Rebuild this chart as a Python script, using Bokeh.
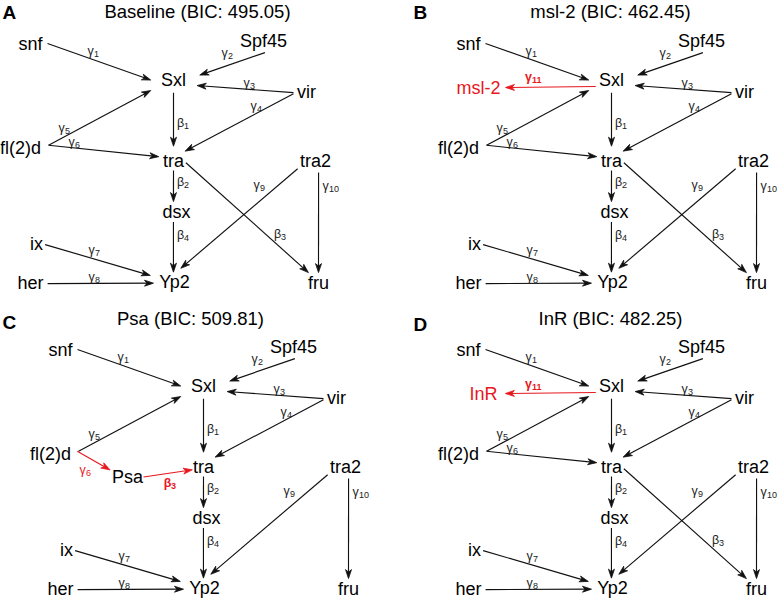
import math
from bokeh.plotting import figure
from bokeh.models import Range1d, ColumnDataSource
from bokeh.core.properties import value
from bokeh.embed import file_html
from bokeh.resources import INLINE

# ---------------- data ----------------
node_names = ["snf", "Spf45", "Sxl", "vir", "fl(2)d", "tra", "tra2", "dsx", "ix", "her", "Yp2", "fru"]
edge_from = ["snf", "Spf45", "vir", "vir", "fl(2)d", "fl(2)d", "Sxl", "tra", "dsx", "tra", "tra2", "tra2", "ix", "her"]
edge_to = ["Sxl", "Sxl", "Sxl", "tra", "Sxl", "tra", "tra", "dsx", "Yp2", "fru", "Yp2", "fru", "Yp2", "Yp2"]
edge_param = ["γ1", "γ2", "γ3", "γ4", "γ5", "γ6", "β1", "β2", "β4", "β3", "γ9", "γ10", "γ7", "γ8"]

panel_letters = ["A", "B", "C", "D"]
panel_models = ["Baseline", "msl-2", "Psa", "InR"]
panel_bic = [495.05, 462.45, 509.81, 482.25]

# model-specific changes relative to the baseline network
added_nodes = [[], ["msl-2"], ["Psa"], ["InR"]]
added_from = [[], ["Sxl"], ["fl(2)d", "Psa"], ["Sxl"]]
added_to = [[], ["msl-2"], ["Psa", "tra"], ["InR"]]
added_param = [[], ["γ11"], ["γ6", "β3"], ["γ11"]]
removed_from = [[], [], ["fl(2)d", "tra"], []]
removed_to = [[], [], ["tra", "fru"], []]

# ---------------- layout (diagram coordinates of panel A) ----------------
NODE_POS = {
    "snf": (30, 43), "Spf45": (263, 40), "Sxl": (173, 79), "vir": (306, 91),
    "fl(2)d": (20, 147), "tra": (173, 160), "tra2": (315, 160), "dsx": (176, 211),
    "ix": (36, 243), "her": (30, 282), "Yp2": (174, 281), "fru": (318, 282),
    "msl-2": (40, 87), "InR": (45, 87), "Psa": (97, 170),
}
PANEL_OFFSET = [(0, 0), (438, 0), (30, 306), (438, 306)]
TITLE_POS = [(197, 11), (610, 11), (190, 318), (610, 318)]
LETTER_POS = [(2, 12), (413, 12), (2, 322), (413, 324)]

# edge ports: (ux, uy) in units of (half text width + 5, 11) around node centre
PORTS = {
    ("snf", "Sxl"): ((1.0, 0.0), (-1.3, 0.05)),
    ("Spf45", "Sxl"): ((0.05, 1.1), (1.5, -0.4)),
    ("vir", "Sxl"): ((-0.9, 0.1), (1.35, 0.55)),
    ("vir", "tra"): ((-0.9, 0.2), (0.75, -0.85)),
    ("fl(2)d", "Sxl"): ((1.1, -0.2), (-1.3, 1.0)),
    ("fl(2)d", "tra"): ((1.1, -0.2), (-0.95, -0.35)),
    ("Sxl", "tra"): ((0.0, 1.2), (0.0, -1.3)),
    ("tra", "dsx"): ((0.0, 0.9), (-0.16, -0.9)),
    ("dsx", "Yp2"): ((-0.16, 0.95), (-0.05, -0.85)),
    ("tra", "fru"): ((0.8, 0.2), (-0.65, -0.9)),
    ("tra2", "Yp2"): ((-0.87, 0.75), (0.3, -1.2)),
    ("tra2", "fru"): ((0.15, 1.1), (0.0, -0.9)),
    ("ix", "Yp2"): ((0.75, 0.1), (-1.15, -0.55)),
    ("her", "Yp2"): ((0.95, 0.1), (-1.0, 0.15)),
    ("Sxl", "msl-2"): ((-0.9, 0.64), (1.0, 0.0)),
    ("Sxl", "InR"): ((-0.9, 0.64), (1.15, 0.0)),
    ("fl(2)d", "Psa"): ((1.05, -0.2), (-0.85, -0.6)),
    ("Psa", "tra"): ((0.78, 0.05), (-0.72, 0.3)),
}
# position of the Greek letter of each edge label
LABEL_POS = {
    ("snf", "Sxl"): (90, 50), ("Spf45", "Sxl"): (224, 52), ("vir", "Sxl"): (246, 82),
    ("vir", "tra"): (253, 105), ("fl(2)d", "Sxl"): (61, 127), ("fl(2)d", "tra"): (71, 141),
    ("Sxl", "tra"): (180, 122), ("tra", "dsx"): (180, 181), ("dsx", "Yp2"): (180, 234),
    ("tra", "fru"): (277, 233), ("tra2", "Yp2"): (256, 184), ("tra2", "fru"): (325, 185),
    ("ix", "Yp2"): (91, 249), ("her", "Yp2"): (91, 276),
    ("Sxl", "msl-2"): (90, 76), ("Sxl", "InR"): (90, 77),
    ("fl(2)d", "Psa"): (52, 163), ("Psa", "tra"): (137, 176),
}
BOLD_LABELS = {("Sxl", "msl-2"), ("Sxl", "InR"), ("Psa", "tra")}

FONT = "Liberation Sans"
BLACK = "#111111"
RED = "#e8161d"
LABEL_GREY = "#222222"
NODE_FS = 18
HH = 11

ARIAL = {"a": 556, "b": 556, "c": 500, "d": 556, "e": 556, "f": 278, "h": 556, "i": 222,
         "l": 222, "m": 833, "n": 556, "p": 556, "r": 333, "s": 500, "t": 278, "u": 556,
         "v": 500, "x": 500, "S": 667, "Y": 667, "I": 278, "R": 722, "P": 667,
         "(": 333, ")": 333, "-": 333}


def half_width(label):
    return sum(ARIAL.get(c, 556) for c in label) / 1000.0 * NODE_FS / 2.0


def port(name, u, ox, oy):
    cx, cy = NODE_POS[name]
    return (cx + ox + u[0] * (half_width(name) + 5), cy + oy + u[1] * HH)


p = figure(width=778, height=599, x_range=Range1d(0, 778), y_range=Range1d(599, 0),
           output_backend="svg", toolbar_location=None, min_border=0,
           x_axis_type=None, y_axis_type=None)
p.grid.visible = False
p.outline_line_color = None
p.background_fill_color = "white"

seg = dict(x0=[], y0=[], x1=[], y1=[], c=[])
heads = dict(xs=[], ys=[], c=[])
ntext = dict(x=[], y=[], t=[], c=[])
gtext = {False: dict(x=[], y=[], t=[], c=[]), True: dict(x=[], y=[], t=[], c=[])}
stext = {False: dict(x=[], y=[], t=[], c=[]), True: dict(x=[], y=[], t=[], c=[])}
titles = dict(x=[], y=[], t=[])
letters = dict(x=[], y=[], t=[])

L, W, NOTCH = 9.0, 3.0, 2.5

for k in range(4):
    ox, oy = PANEL_OFFSET[k]
    removed = set(zip(removed_from[k], removed_to[k]))
    edges = [(f, t, prm, False) for f, t, prm in zip(edge_from, edge_to, edge_param)
             if (f, t) not in removed]
    edges += [(f, t, prm, True) for f, t, prm in zip(added_from[k], added_to[k], added_param[k])]

    for f, t, prm, new in edges:
        col = RED if new else BLACK
        su, tu = PORTS[(f, t)]
        x0, y0 = port(f, su, ox, oy)
        x1, y1 = port(t, tu, ox, oy)
        dx, dy = x1 - x0, y1 - y0
        d = math.hypot(dx, dy)
        ux, uy = dx / d, dy / d
        nx, ny = -uy, ux
        seg["x0"].append(x0); seg["y0"].append(y0)
        seg["x1"].append(x1 - ux * 3); seg["y1"].append(y1 - uy * 3)
        seg["c"].append(col)
        heads["xs"].append([x1, x1 - L * ux + W * nx, x1 - (L - NOTCH) * ux, x1 - L * ux - W * nx])
        heads["ys"].append([y1, y1 - L * uy + W * ny, y1 - (L - NOTCH) * uy, y1 - L * uy - W * ny])
        heads["c"].append(col)
        lx, ly = LABEL_POS[(f, t)]
        bold = (f, t) in BOLD_LABELS
        lc = RED if new else LABEL_GREY
        g = gtext[bold]
        g["x"].append(lx + ox); g["y"].append(ly + oy); g["t"].append(prm[0]); g["c"].append(lc)
        s = stext[bold]
        s["x"].append(lx + ox + 3.6); s["y"].append(ly + oy + 3.0); s["t"].append(prm[1:]); s["c"].append(lc)

    for n in node_names + added_nodes[k]:
        cx, cy = NODE_POS[n]
        ntext["x"].append(cx + ox); ntext["y"].append(cy + oy); ntext["t"].append(n)
        ntext["c"].append(RED if n in ("msl-2", "InR") else "black")

    tx, ty = TITLE_POS[k]
    titles["x"].append(tx); titles["y"].append(ty)
    titles["t"].append(f"{panel_models[k]} (BIC: {panel_bic[k]:.2f})")
    lx, ly = LETTER_POS[k]
    letters["x"].append(lx); letters["y"].append(ly); letters["t"].append(panel_letters[k])

p.segment("x0", "y0", "x1", "y1", source=ColumnDataSource(seg), line_color="c", line_width=1.15)
p.patches("xs", "ys", source=ColumnDataSource(heads), fill_color="c", line_color="c", line_width=0.8)

p.text("x", "y", text="t", source=ColumnDataSource(ntext), text_color="c",
       text_font=value(FONT), text_font_size="18px", text_align="center", text_baseline="middle")
for bold in (False, True):
    style = "bold" if bold else "normal"
    p.text("x", "y", text="t", source=ColumnDataSource(gtext[bold]), text_color="c",
           text_font=value(FONT), text_font_size="12.5px", text_font_style=style,
           text_align="center", text_baseline="middle")
    p.text("x", "y", text="t", source=ColumnDataSource(stext[bold]), text_color="c",
           text_font=value(FONT), text_font_size="9px", text_font_style=style,
           text_align="left", text_baseline="middle")
p.text("x", "y", text="t", source=ColumnDataSource(titles), text_color="black",
       text_font=value(FONT), text_font_size="18.5px", text_align="center", text_baseline="middle")
p.text("x", "y", text="t", source=ColumnDataSource(letters), text_color="black",
       text_font=value(FONT), text_font_size="19px", text_font_style="bold",
       text_align="left", text_baseline="middle")

open("out.html", "w").write(file_html(p, INLINE))
